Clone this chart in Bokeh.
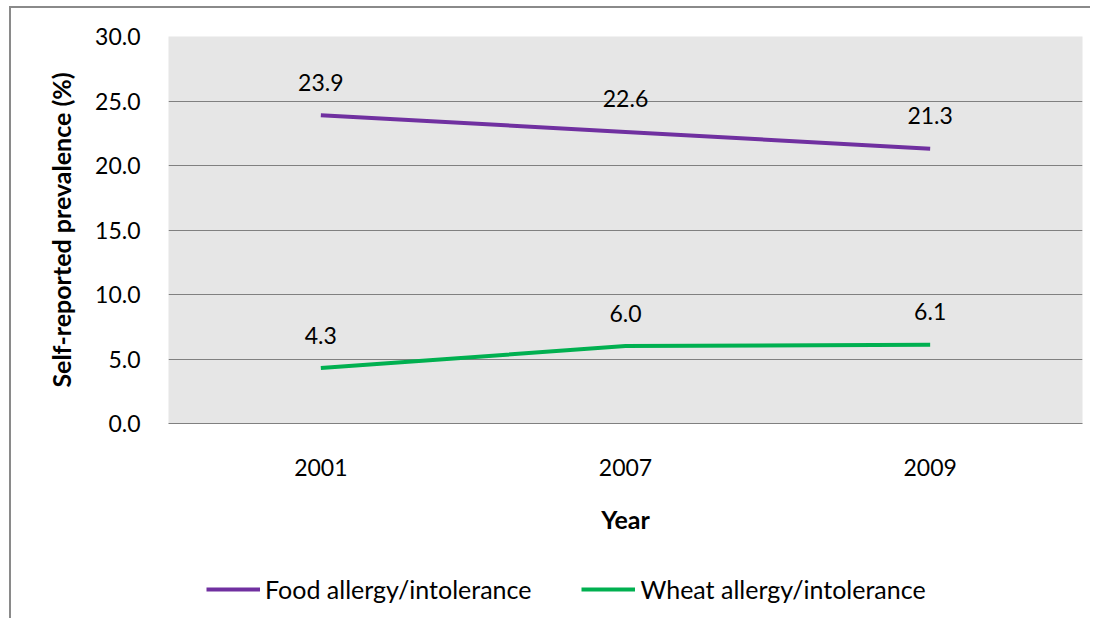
from bokeh.plotting import figure
from bokeh.layouts import column
from bokeh.models import ColumnDataSource, Legend, LegendItem, SingleIntervalTicker, PrintfTickFormatter
from bokeh.core.properties import value
from bokeh.embed import file_html
from bokeh.resources import INLINE

years = ["2001", "2007", "2009"]
food = [23.9, 22.6, 21.3]
wheat = [4.3, 6.0, 6.1]
food_labels = ["23.9", "22.6", "21.3"]
wheat_labels = ["4.3", "6.0", "6.1"]
series_names = ["Food allergy/intolerance", "Wheat allergy/intolerance"]

FONT = "Lato"
PURPLE = "#7030A0"
GREEN = "#00B050"

p = figure(x_range=years, y_range=(0, 30), width=1079, height=552,
           output_backend="svg", toolbar_location=None,
           min_border_left=157, min_border_right=8, min_border_top=28, min_border_bottom=137)
p.background_fill_color = "#e6e6e6"
p.border_fill_color = "white"
p.outline_line_color = None

src_f = ColumnDataSource(dict(x=years, y=food, t=food_labels))
src_w = ColumnDataSource(dict(x=years, y=wheat, t=wheat_labels))

p.line("x", "y", source=src_f, line_color=PURPLE, line_width=4)
p.line("x", "y", source=src_w, line_color=GREEN, line_width=4)

for s in (src_f, src_w):
    p.text("x", "y", text="t", source=s, y_offset=-33, text_align="center",
           text_baseline="middle", text_font=value(FONT), text_font_size="23px",
           text_color="#000000")

p.xgrid.grid_line_color = None
p.ygrid.grid_line_color = "#808080"
p.ygrid.grid_line_width = 1

p.yaxis.ticker = SingleIntervalTicker(interval=5)
p.yaxis.formatter = PrintfTickFormatter(format="%.1f")
for ax in (p.xaxis[0], p.yaxis[0]):
    ax.major_tick_line_color = None
    ax.minor_tick_line_color = None
    ax.major_label_text_font = FONT
    ax.major_label_text_font_size = "23px"
    ax.major_label_text_color = "#000000"
    ax.axis_label_text_font = FONT
    ax.axis_label_text_font_size = "25px"
    ax.axis_label_text_font_style = "bold"
    ax.axis_label_text_color = "#000000"
p.yaxis.axis_line_color = None
p.xaxis.axis_line_color = "#808080"
p.yaxis.major_label_standoff = 22
p.xaxis.major_label_standoff = 29
p.yaxis.axis_label = "Self-reported prevalence (%)"
p.xaxis.axis_label = "Year"
p.yaxis.axis_label_standoff = 16
p.xaxis.axis_label_standoff = 25

# legend strip below the chart
p2 = figure(x_range=years, y_range=(100, 101), width=1079, height=58,
            output_backend="svg", toolbar_location=None,
            min_border_left=0, min_border_right=0, min_border_top=0, min_border_bottom=0)
p2.axis.visible = False
p2.grid.grid_line_color = None
p2.outline_line_color = None
p2.background_fill_color = "white"
lf = p2.line("x", "y", source=src_f, line_color=PURPLE, line_width=4)
lw = p2.line("x", "y", source=src_w, line_color=GREEN, line_width=4)

legend = Legend(items=[LegendItem(label=series_names[0], renderers=[lf]),
                       LegendItem(label=series_names[1], renderers=[lw])],
                orientation="horizontal", location=(38, 14),
                glyph_width=54, glyph_height=28, label_standoff=5, spacing=50,
                padding=0, margin=0, border_line_color=None, background_fill_alpha=0,
                label_text_font=FONT, label_text_font_size="25px", label_text_color="#000000")
p2.add_layout(legend, "center")

layout = column(p, p2, spacing=0, margin=(6, 0, 0, 9),
                styles={"border-top": "2px solid #8a8a8a", "border-left": "2px solid #8a8a8a"})

open("out.html", "w").write(file_html(layout, INLINE))
